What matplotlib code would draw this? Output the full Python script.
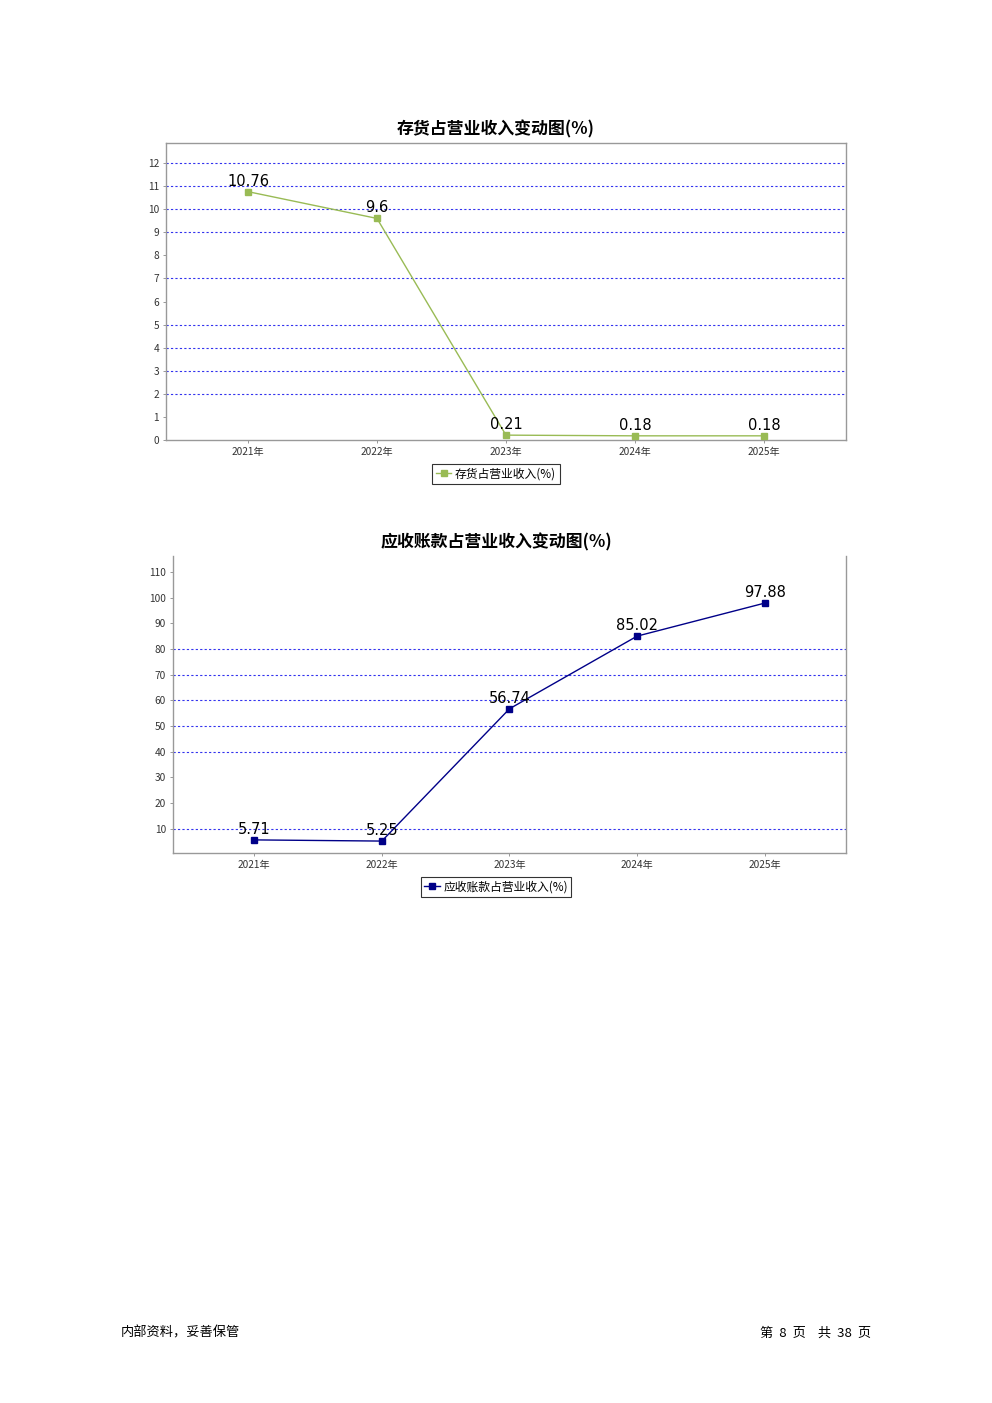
import matplotlib.pyplot as plt

plt.rcParams['font.family'] = ['Noto Sans CJK SC', 'DejaVu Sans']

years = ['2021年', '2022年', '2023年', '2024年', '2025年']
inventory = [10.76, 9.6, 0.21, 0.18, 0.18]
receivable = [5.71, 5.25, 56.74, 85.02, 97.88]

fig = plt.figure(figsize=(9.92, 14.03), dpi=100)


def draw(ax, values, color, title, title_y, label, ylim, yticks, grid_vals, legend_y, top_spine=True):
    x = range(len(values))
    for g in grid_vals:
        ax.axhline(g, color='#3333ee', linestyle=(0, (2, 2)), linewidth=0.8, zorder=1)
    ax.plot(x, values, color=color, linewidth=1, marker='s', markersize=5,
            markeredgecolor=color, label=label, zorder=3)
    for i, v in enumerate(values):
        ax.text(i, v + (ylim[1] - ylim[0]) * 0.01, str(v), ha='center', va='bottom',
                fontsize=10.5, family='DejaVu Sans', color='black', zorder=4)
    ax.set_xlim(-0.636, len(values) - 1 + 0.636)
    ax.set_ylim(*ylim)
    ax.set_yticks(yticks)
    ax.set_xticks(list(x))
    ax.set_xticklabels(years)
    ax.tick_params(axis='both', labelsize=7.3, length=2, width=0.6, colors='#888888',
                   labelcolor='#333333', pad=3)
    for s in ax.spines.values():
        s.set_color('#999999')
        s.set_linewidth(1)
    ax.spines['top'].set_visible(top_spine)
    # titles and legends are centred on the page, not on the plot area
    fig.text(0.5, title_y, title, ha='center', va='center', fontsize=12.2, fontweight='bold')
    leg = fig.legend(*ax.get_legend_handles_labels(), loc='center',
                     bbox_to_anchor=(0.5, legend_y), fontsize=8.5, frameon=True,
                     fancybox=False, handlelength=1.3, handletextpad=0.3,
                     borderpad=0.3, markerscale=0.8)
    leg.get_frame().set_edgecolor('black')
    leg.get_frame().set_linewidth(0.8)


ax1 = fig.add_axes([0.1673, 0.6864, 0.6855, 0.2117])
draw(ax1, inventory, '#99bb55', '存货占营业收入变动图(%)', 1 - 129 / 1403, '存货占营业收入(%)',
     (0, 12.87), list(range(0, 13)), [2, 3, 4, 5, 7, 9, 10, 11, 12], 1 - 474 / 1403)

ax2 = fig.add_axes([0.1744, 0.3920, 0.6784, 0.2117])
draw(ax2, receivable, '#000088', '应收账款占营业收入变动图(%)', 1 - 542 / 1403, '应收账款占营业收入(%)',
     (0.6, 116.2), list(range(10, 120, 10)), [10, 40, 50, 60, 70, 80], 1 - 887 / 1403,
     top_spine=False)

fig.text(121 / 992, 1 - 1333 / 1403, '内部资料，妥善保管', fontsize=9.5, va='center', ha='left')
fig.text(871 / 992, 1 - 1333 / 1403, '第  8  页    共  38  页', fontsize=9.5, va='center', ha='right')

fig.savefig('out.png', dpi=100)
